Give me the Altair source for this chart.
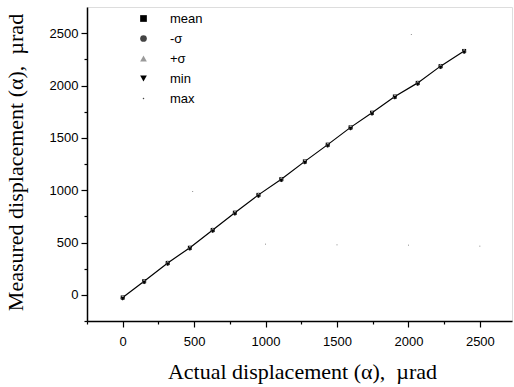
import altair as alt
import pandas as pd

# ---- data ----
actual = [0, 150, 315, 470, 630, 785, 950, 1110, 1275, 1435, 1595, 1745, 1905, 2065, 2225, 2390]
mean_y = [-25, 130, 305, 450, 620, 785, 955, 1105, 1275, 1435, 1600, 1740, 1895, 2025, 2185, 2330]
minus_sigma = [-33, 122, 297, 442, 612, 777, 947, 1097, 1267, 1427, 1592, 1732, 1887, 2017, 2177, 2322]
plus_sigma = [-17, 138, 313, 458, 628, 793, 963, 1113, 1283, 1443, 1608, 1748, 1903, 2033, 2193, 2338]
min_y = [-38, 117, 292, 437, 607, 772, 942, 1092, 1262, 1422, 1587, 1727, 1882, 2012, 2172, 2317]
max_x = [490, 1000, 1500, 2000, 2500, 2020]
max_y = [988, 485, 478, 475, 465, 2486]

series_names = ["mean", "-σ", "+σ", "min", "max"]
series_colors = ["#000000", "#444444", "#9a9a9a", "#000000", "#444444"]
tiny_dot = "M-0.2,-0.2L0.2,-0.2L0.2,0.2L-0.2,0.2Z"
series_shapes = ["square", "circle", "triangle-up", "triangle-down", tiny_dot]

major_ticks = [0, 500, 1000, 1500, 2000, 2500]
minor_ticks = [-250, 250, 750, 1250, 1750, 2250]

rows = []
for name, ys in [("mean", mean_y), ("-σ", minus_sigma), ("+σ", plus_sigma), ("min", min_y)]:
    for xv, yv in zip(actual, ys):
        rows.append({"actual": xv, "measured": yv, "series": name})
for xv, yv in zip(max_x, max_y):
    rows.append({"actual": xv, "measured": yv, "series": "max"})
df = pd.DataFrame(rows)
line_df = pd.DataFrame({"actual": actual, "measured": mean_y})

label_font = "Liberation Sans"
title_font = "Liberation Serif"

x_scale = alt.Scale(domain=[-250, 2725], nice=False, zero=False)
y_scale = alt.Scale(domain=[-250, 2750], nice=False, zero=False)

x_axis = alt.Axis(
    values=major_ticks, format="d", grid=False, orient="bottom",
    tickSize=6, tickColor="black", tickWidth=1.2,
    domainColor="black", domainWidth=1.5,
    labelFont=label_font, labelFontSize=13, labelColor="black", labelPadding=8,
    title="Actual displacement (α),\u00a0\u00a0µrad", titleFont=title_font, titleFontSize=22,
    titleFontWeight="normal", titleColor="black", titleX=215, titleY=57,
    titleBaseline="alphabetic",
)
y_axis = alt.Axis(
    values=major_ticks, format="d", grid=False, orient="left",
    tickSize=6, tickColor="black", tickWidth=1.2,
    domainColor="black", domainWidth=1.5,
    labelFont=label_font, labelFontSize=13, labelColor="black", labelPadding=3,
    title="Measured displacement (α),\u00a0\u00a0µrad", titleFont=title_font, titleFontSize=22,
    titleFontWeight="normal", titleColor="black", titleX=-72, titleY=155,
    titleAngle=-90, titleBaseline="middle",
)
x_minor = alt.Axis(values=minor_ticks, orient="bottom", grid=False, labels=False, domain=False,
                   tickSize=3, tickColor="black", tickWidth=1.2, title=None)
y_minor = alt.Axis(values=minor_ticks, orient="left", grid=False, labels=False, domain=False,
                   tickSize=3, tickColor="black", tickWidth=1.2, title=None)

line = alt.Chart(line_df).mark_line(color="black", strokeWidth=1.2).encode(
    x=alt.X("actual:Q", scale=x_scale, axis=x_axis),
    y=alt.Y("measured:Q", scale=y_scale, axis=y_axis),
)

points = alt.Chart(df).mark_point(filled=True, opacity=1, size=16).encode(
    x=alt.X("actual:Q", scale=x_scale, axis=x_minor),
    y=alt.Y("measured:Q", scale=y_scale, axis=y_minor),
    color=alt.Color("series:N", sort=series_names,
                    scale=alt.Scale(domain=series_names, range=series_colors),
                    legend=alt.Legend(title=None, orient="none", legendX=50, legendY=5,
                                      labelFont=label_font, labelFontSize=13, labelColor="black",
                                      labelOffset=20, rowPadding=6, padding=0,
                                      symbolSize=45, symbolStrokeWidth=0)),
    shape=alt.Shape("series:N", sort=series_names,
                    scale=alt.Scale(domain=series_names, range=series_shapes)),
)

chart = alt.layer(line, points).resolve_axis(x="independent", y="independent").properties(
    width=425, height=314,
    autosize=alt.AutoSizeParams(type="none"),
    padding={"left": 87, "top": 7, "right": 2, "bottom": 66},
).configure_view(stroke=None).configure(background="white")

chart.save("out.html", embed_options={"renderer": "svg", "actions": False})
